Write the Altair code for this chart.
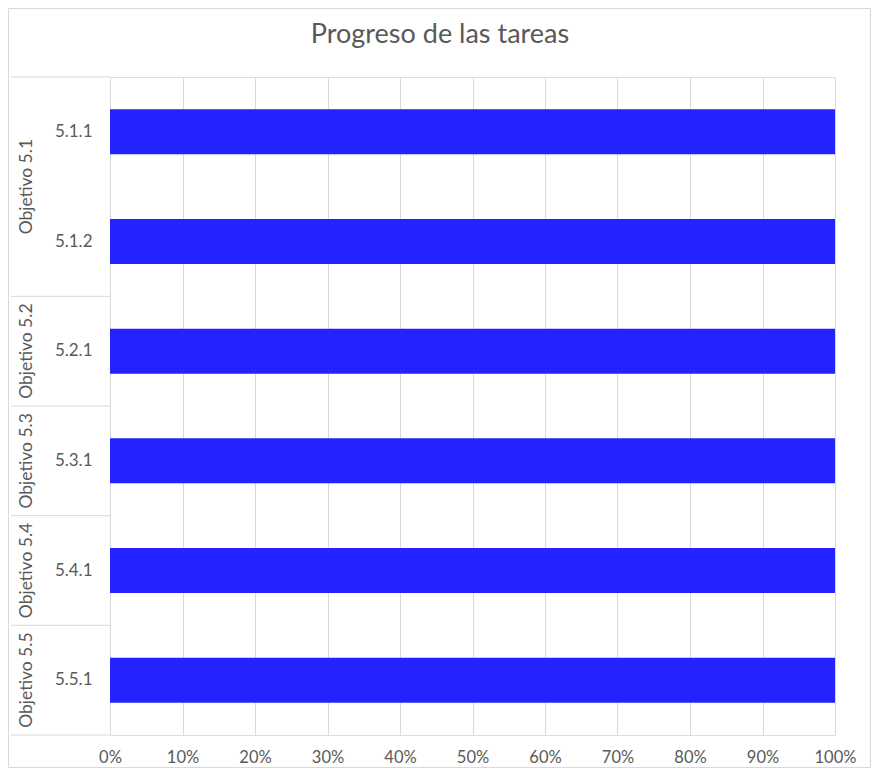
import altair as alt
import pandas as pd

title_text = "Progreso de las tareas"
groups = ["Objetivo 5.1", "Objetivo 5.1", "Objetivo 5.2", "Objetivo 5.3", "Objetivo 5.4", "Objetivo 5.5"]
tasks = ["5.1.1", "5.1.2", "5.2.1", "5.3.1", "5.4.1", "5.5.1"]
progress = [1.0, 1.0, 1.0, 1.0, 1.0, 1.0]
x_ticks = [0, 0.1, 0.2, 0.3, 0.4, 0.5, 0.6, 0.7, 0.8, 0.9, 1.0]

FONT = "Lato"
TEXT = "#595959"
GRID = "#d9d9d9"
BAR = "#2323FF"

df = pd.DataFrame({"group": groups, "task": tasks, "progress": progress})

# group summary: first task, last task, count
g = df.groupby("group", sort=False).agg(first=("task", "first"), last=("task", "last"), n=("task", "size")).reset_index()

yscale = alt.Scale(domain=tasks, paddingInner=0, paddingOuter=0)
yaxis = alt.Axis(title=None, ticks=False, domain=True, domainColor=GRID,
                 labelAlign="right", labelPadding=18, labelFontSize=17,
                 labelColor=TEXT, labelFont=FONT, grid=False)

bars = alt.Chart(df).mark_bar(color=BAR, height=45).encode(
    x=alt.X("progress:Q", scale=alt.Scale(domain=[0, 1], nice=False),
            axis=alt.Axis(values=x_ticks, format=".0%", grid=True, gridColor=GRID,
                          domain=False, ticks=False, labelPadding=14, labelFlush=False,
                          labelFontSize=16.5, labelColor=TEXT, labelFont=FONT, title=None)),
    y=alt.Y("task:N", scale=yscale, sort=tasks, axis=yaxis),
)

sep_top = alt.Chart(g).mark_rule(color=GRID, strokeWidth=1, clip=False).encode(
    y=alt.Y("first:N", scale=yscale, sort=tasks, bandPosition=0, axis=yaxis),
    x=alt.value(-99), x2=alt.value(0),
)
sep_bottom = alt.Chart(g.tail(1)).mark_rule(color=GRID, strokeWidth=1, clip=False).encode(
    y=alt.Y("last:N", scale=yscale, sort=tasks, bandPosition=1, axis=yaxis),
    x=alt.value(-99), x2=alt.value(0),
)

glabel_multi = alt.Chart(g[g["n"] == 2]).mark_text(
    angle=270, font=FONT, fontSize=17.5, color=TEXT, align="center", baseline="middle", clip=False
).encode(
    y=alt.Y("first:N", scale=yscale, sort=tasks, bandPosition=1, axis=yaxis),
    x=alt.value(-83), text="group:N",
)
glabel_single = alt.Chart(g[g["n"] == 1]).mark_text(
    angle=270, font=FONT, fontSize=17.5, color=TEXT, align="center", baseline="middle", clip=False
).encode(
    y=alt.Y("first:N", scale=yscale, sort=tasks, bandPosition=0.5, axis=yaxis),
    x=alt.value(-83), text="group:N",
)

title_mark = alt.Chart(pd.DataFrame({"t": [title_text]})).mark_text(
    font=FONT, fontSize=27, color=TEXT, align="center", baseline="alphabetic", clip=False
).encode(x=alt.value(330), y=alt.value(-34), text="t:N")

border = alt.Chart(pd.DataFrame({"k": [0]})).mark_rect(
    fill=None, stroke=GRID, strokeWidth=1, clip=False
).encode(
    x=alt.value(-101.5), x2=alt.value(760.5), y=alt.value(-68.5), y2=alt.value(690.5)
)

chart = alt.layer(bars, sep_top, sep_bottom, glabel_multi, glabel_single, title_mark, border).properties(
    width=725, height=658,
    autosize=alt.AutoSizeParams(type="none"),
    padding={"left": 102, "top": 69, "right": 36, "bottom": 41},
).configure_view(stroke=None).configure(background="white")

chart.save("out.html", embed_options={"renderer": "svg", "actions": False})
